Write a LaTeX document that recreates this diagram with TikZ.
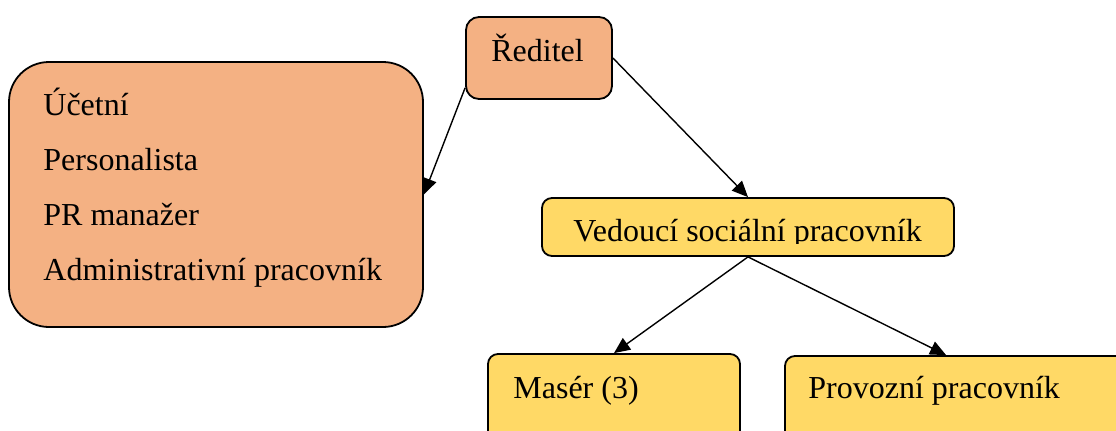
\documentclass[tikz,border=0pt]{standalone}
\usepackage{fontspec}
\setmainfont{Liberation Serif}
\usetikzlibrary{arrows.meta,calc}
\definecolor{boxorange}{HTML}{F4B183}
\definecolor{boxyellow}{HTML}{FFD966}
\begin{document}
\begin{tikzpicture}[x=0.5pt, y=-0.5pt,
    box/.style={draw=black, line width=0.9pt, inner sep=0pt},
    lbl/.style={anchor=base west, inner sep=0pt, font=\fontsize{16}{19}\selectfont},
    arr/.style={-{Triangle[length=8pt,width=7pt]}, line width=0.7pt}]
    \clip (0,0) rectangle (1116,430);
    % boxes
    \node[box, fill=boxorange, rounded corners=6.5pt, minimum width=73pt, minimum height=41pt] (reditel) at (539,58) {};
    \node[box, fill=boxorange, rounded corners=20pt, minimum width=207pt, minimum height=132.5pt] (staff) at (216,194.5) {};
    \node[box, fill=boxyellow, rounded corners=5pt, minimum width=206pt, minimum height=29pt] (vedouci) at (748,227) {};
    \node[box, fill=boxyellow, rounded corners=5pt, minimum width=126pt, minimum height=53pt] (maser) at (614,407) {};
    \node[box, fill=boxyellow, rounded corners=5pt, minimum width=177pt, minimum height=52pt] (provozni) at (962,408) {};
    % texts
    \node[lbl] (treditel) at (491,61) {Ředitel};
    \node[lbl] (tucetni) at (43,115) {Účetní};
    \node[lbl] (tperson) at (43,170) {Personalista};
    \node[lbl] (tpr) at (43,225) {PR manažer};
    \node[lbl] (tadmin) at (43,280) {Administrativní pracovník};
    \begin{scope}
        \clip (542,198) rectangle (954,243);
        \node[lbl] (tvedouci) at (573,241) {Vedoucí sociální pracovník};
    \end{scope}
    \node[lbl] (tmaser) at (513,398) {Masér (3)};
    \node[lbl] (tprovozni) at (808,398) {Provozní pracovník};
    % arrows
    \draw[arr] (reditel.east) -- (vedouci.north);
    \draw[arr] (reditel.202) -- (staff.east);
    \draw[arr] (vedouci.south) -- (maser.north);
    \draw[arr] (vedouci.south) -- ($(provozni.north west)+(162,0)$);
\end{tikzpicture}
\end{document}
